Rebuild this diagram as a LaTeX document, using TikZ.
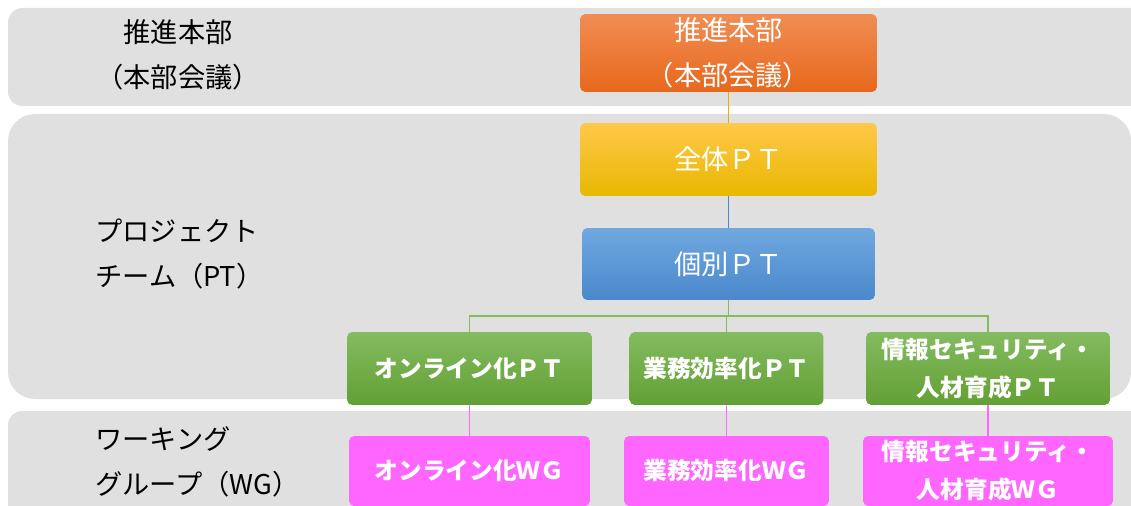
\documentclass[tikz,border=0pt]{standalone}
\usepackage{fontspec}
\setmainfont{Noto Sans CJK JP}
\usepackage{tikz}

\definecolor{bandgray}{RGB}{224,224,224}
\definecolor{orangetop}{RGB}{241,141,84}
\definecolor{orangebot}{RGB}{231,104,28}
\definecolor{yellowtop}{RGB}{255,200,74}
\definecolor{yellowbot}{RGB}{232,184,0}
\definecolor{bluetop}{RGB}{112,168,224}
\definecolor{bluebot}{RGB}{74,136,204}
\definecolor{greentop}{RGB}{132,187,96}
\definecolor{greenbot}{RGB}{98,160,52}
\definecolor{pinkbox}{RGB}{255,102,255}

\begin{document}
\begin{tikzpicture}[x=0.02cm,y=-0.02cm,
  box/.style={rounded corners=3pt, text=white, align=center, inner sep=0pt},
  bigbox/.style={box, font=\fontsize{15.5pt}{25.6pt}\selectfont},
  smallbox/.style={box, font=\fontsize{13.5pt}{21.6pt}\selectfont\bfseries,
    minimum height=1.46cm, top color=greentop, bottom color=greenbot},
  wgbox/.style={box, font=\fontsize{13.5pt}{21.6pt}\selectfont\bfseries,
    minimum height=1.4cm, fill=pinkbox},
  sidelabel/.style={align=left, anchor=west, inner sep=0pt,
    font=\fontsize{15.5pt}{25.6pt}\selectfont}]
\useasboundingbox (0,0) rectangle (1131,506);
\clip (0,0) rectangle (1131,506);

% bands
\fill[bandgray, rounded corners=8pt] (8,8) rectangle (1150,106);
\fill[bandgray, rounded corners=0.54cm] (8,114) rectangle (1131,399);
\fill[bandgray, rounded corners=8pt] (8,411) rectangle (1150,540);

% side labels
\node[sidelabel, align=center, anchor=center] at (178,55) (lhonbu) {推進本部\\（本部会議）};
\node[sidelabel] at (95,254) (lpt) {プロジェクト\\チーム（PT）};
\node[sidelabel] at (95,462) (lwg) {ワーキング\\グループ（WG）};

% boxes
\node[bigbox, minimum width=5.94cm, minimum height=1.56cm,
  top color=orangetop, bottom color=orangebot] at (728.5,53) (honbu) {推進本部\\（本部会議）};
\node[bigbox, minimum width=5.94cm, minimum height=1.46cm,
  top color=yellowtop, bottom color=yellowbot] at (728.5,159.5) (zentai) {全体ＰＴ};
\node[bigbox, minimum width=5.86cm, minimum height=1.44cm,
  top color=bluetop, bottom color=bluebot] at (728.5,264) (kobetsu) {個別ＰＴ};

\node[smallbox, minimum width=4.9cm] at (469.5,368.5) (online) {オンライン化ＰＴ};
\node[smallbox, minimum width=3.88cm] at (726.5,368.5) (gyomu) {業務効率化ＰＴ};
\node[smallbox, minimum width=4.88cm] at (988,368.5) (joho) {情報セキュリティ・\\人材育成ＰＴ};

\node[wgbox, minimum width=4.82cm] at (469.5,471) (onlinewg) {オンライン化ＷＧ};
\node[wgbox, minimum width=4.1cm] at (726.5,471) (gyomuwg) {業務効率化ＷＧ};
\node[wgbox, minimum width=5.0cm] at (988,471) (johowg) {情報セキュリティ・\\人材育成ＷＧ};

% connectors
\coordinate (bus) at (728.5,316);
\draw[color=yellowbot!80!orange, line width=0.6pt] (honbu) -- (zentai);
\draw[color=bluebot, line width=0.6pt] (zentai) -- (kobetsu);
\draw[color=greentop, line width=0.6pt] (kobetsu) -- (bus);
\draw[color=greentop, line width=0.6pt] (online.north) |- (bus) -| (joho.north);
\draw[color=greentop, line width=0.6pt] (gyomu.north) -- (gyomu.north |- bus);
\draw[color=pinkbox, line width=0.6pt] (online) -- (onlinewg);
\draw[color=pinkbox, line width=0.6pt] (gyomu) -- (gyomuwg);
\draw[color=pinkbox, line width=0.6pt] (joho) -- (johowg);
\end{tikzpicture}
\end{document}
